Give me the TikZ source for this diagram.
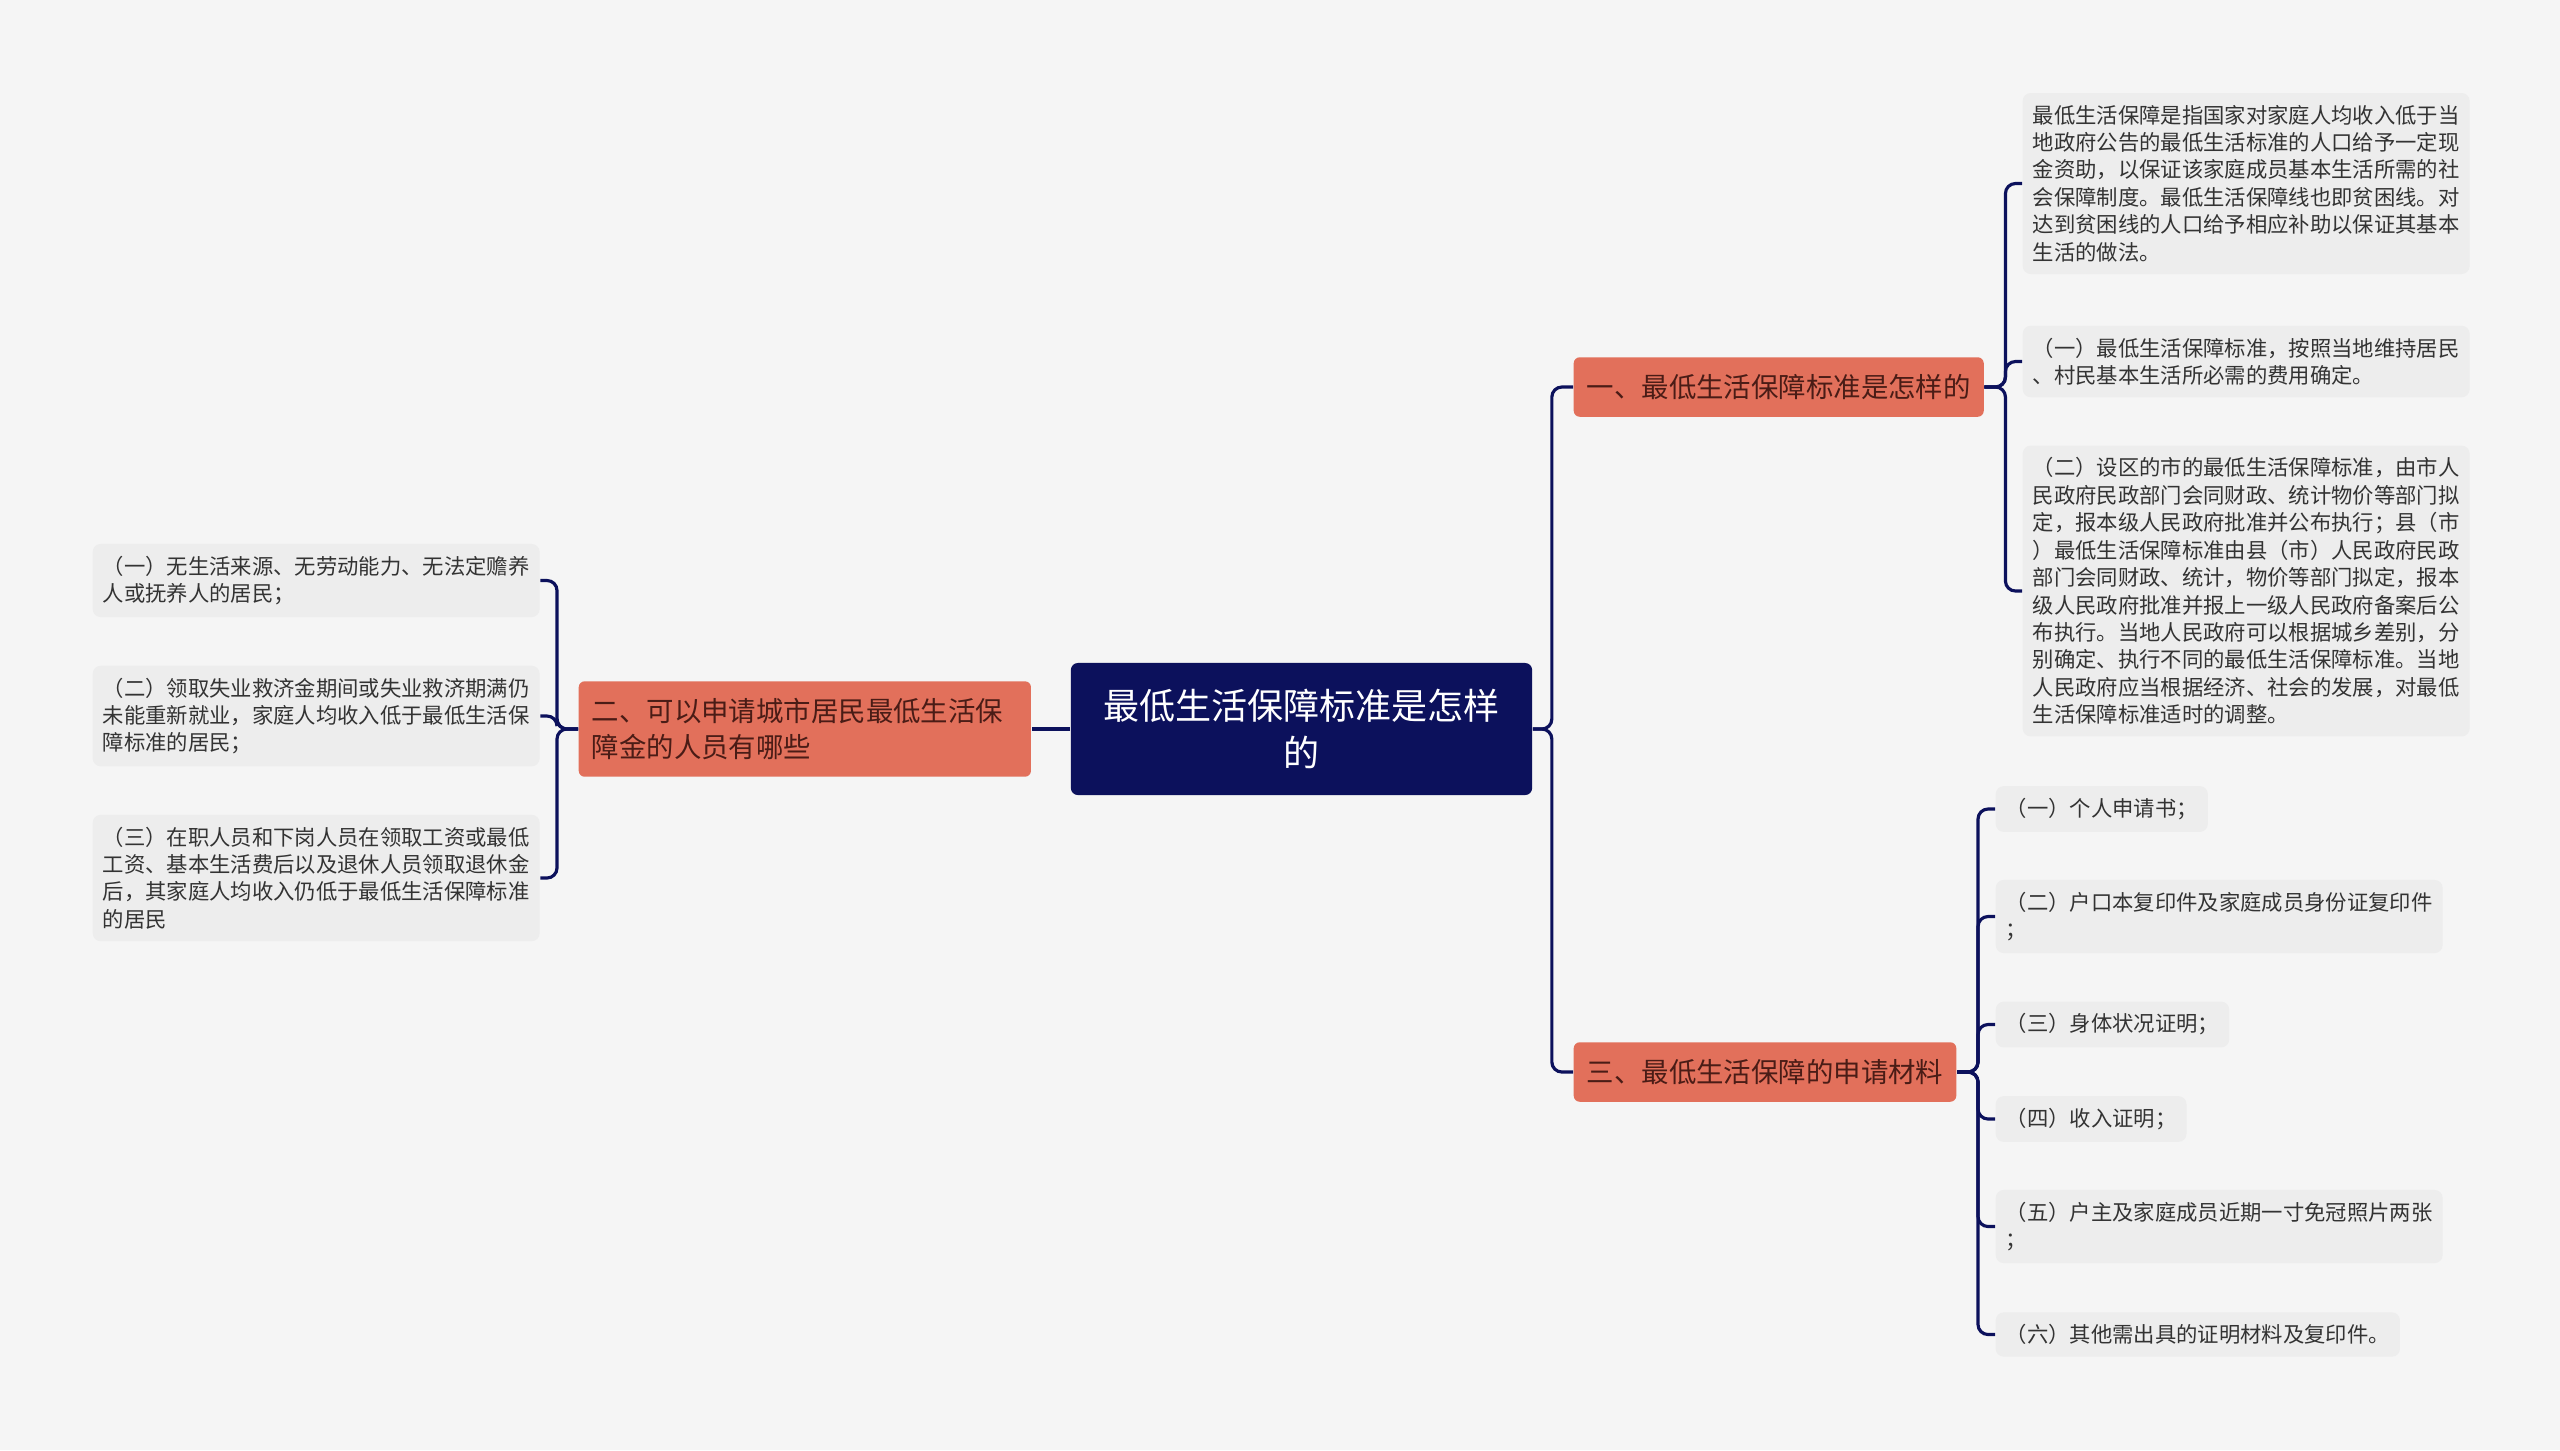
\documentclass[tikz,border=0pt]{standalone}
\usepackage{fontspec}
\setmainfont{Noto Sans CJK SC}
\usetikzlibrary{positioning}
\definecolor{navy}{HTML}{0C115C}
\definecolor{salmon}{HTML}{E2705B}
\definecolor{salmontext}{HTML}{4A1C16}
\definecolor{leaffill}{HTML}{EDEDED}
\definecolor{leaftext}{HTML}{333333}
\definecolor{bgcol}{HTML}{F5F5F5}

\begin{document}
\begin{tikzpicture} [x=0.01cm,y=-0.01cm,
		link/.style={draw=navy,line width=0.9pt,rounded corners=0.1cm},
		rootbox/.style={fill=navy,text=white,rounded corners=0.07cm,align=center,minimum width=4.61cm,minimum height=1.32cm,font=\fontsize{10.25pt}{13.4pt}\selectfont},
		topicbox/.style={fill=salmon,text=salmontext,rounded corners=0.06cm,anchor=west,align=left,inner xsep=0.13cm,inner ysep=0.17cm,font=\fontsize{7.8pt}{10.2pt}\selectfont},
		leafbox/.style={fill=leaffill,text=leaftext,rounded corners=0.08cm,anchor=west,align=left,inner xsep=0.1cm,inner ysep=0.12cm,font=\fontsize{6.07pt}{7.8pt}\selectfont}]
		% Background and page size
		\fill[bgcol] (0,0) rectangle (2560,1450);
		\useasboundingbox (0,0) rectangle (2560,1450);
		% Root and topics
		\node[rootbox] (root) at (1301.5,729) {最低生活保障标准是怎样\\的};
		\node[topicbox] (one) at (1573,387) {一、最低生活保障标准是怎样的};
		\node[topicbox,text width=4.26cm] (two) at (578,729) {二、可以申请城市居民最低生活保\\障金的人员有哪些};
		\node[topicbox] (three) at (1573,1072) {三、最低生活保障的申请材料};
		% Leaves of topic one
		\node[leafbox] (a1) at (2022,183.5) {最低生活保障是指国家对家庭人均收入低于当\\地政府公告的最低生活标准的人口给予一定现\\金资助，以保证该家庭成员基本生活所需的社\\会保障制度。最低生活保障线也即贫困线。对\\达到贫困线的人口给予相应补助以保证其基本\\生活的做法。};
		\node[leafbox] (a2) at (2022,361.5) {（一）最低生活保障标准，按照当地维持居民\\、村民基本生活所必需的费用确定。};
		\node[leafbox] (a3) at (2022,591) {（二）设区的市的最低生活保障标准，由市人\\民政府民政部门会同财政、统计物价等部门拟\\定，报本级人民政府批准并公布执行；县（市\\）最低生活保障标准由县（市）人民政府民政\\部门会同财政、统计，物价等部门拟定，报本\\级人民政府批准并报上一级人民政府备案后公\\布执行。当地人民政府可以根据城乡差别，分\\别确定、执行不同的最低生活保障标准。当地\\人民政府应当根据经济、社会的发展，对最低\\生活保障标准适时的调整。};
		% Leaves of topic two
		\node[leafbox] (b1) at (92,580.5) {（一）无生活来源、无劳动能力、无法定赡养\\人或抚养人的居民；};
		\node[leafbox] (b2) at (92,716) {（二）领取失业救济金期间或失业救济期满仍\\未能重新就业，家庭人均收入低于最低生活保\\障标准的居民；};
		\node[leafbox] (b3) at (92,878) {（三）在职人员和下岗人员在领取工资或最低\\工资、基本生活费后以及退休人员领取退休金\\后，其家庭人均收入仍低于最低生活保障标准\\的居民};
		% Leaves of topic three
		\node[leafbox] (c1) at (1995,809) {（一）个人申请书；};
		\node[leafbox] (c2) at (1995,916.5) {（二）户口本复印件及家庭成员身份证复印件\\；};
		\node[leafbox] (c3) at (1995,1024.5) {（三）身体状况证明；};
		\node[leafbox] (c4) at (1995,1119) {（四）收入证明；};
		\node[leafbox] (c5) at (1995,1226.5) {（五）户主及家庭成员近期一寸免冠照片两张\\；};
		\node[leafbox] (c6) at (1995,1334.5) {（六）其他需出具的证明材料及复印件。};
		% Connectors
		\foreach \t in {one,three}
			\draw[link] (root.east) -- ++(19,0) |- (\t.west);
		\draw[link] (root.west) -- (two.east);
		\foreach \l in {a1,a2,a3}
			\draw[link] (one.east) -- ++(21,0) |- (\l.west);
		\foreach \l in {b1,b2,b3}
			\draw[link] (two.west) -- ++(-21,0) |- (\l.east);
		\foreach \l in {c1,c2,c3,c4,c5,c6}
			\draw[link] (three.east) -- ++(21,0) |- (\l.west);
	\end{tikzpicture}
\end{document}
